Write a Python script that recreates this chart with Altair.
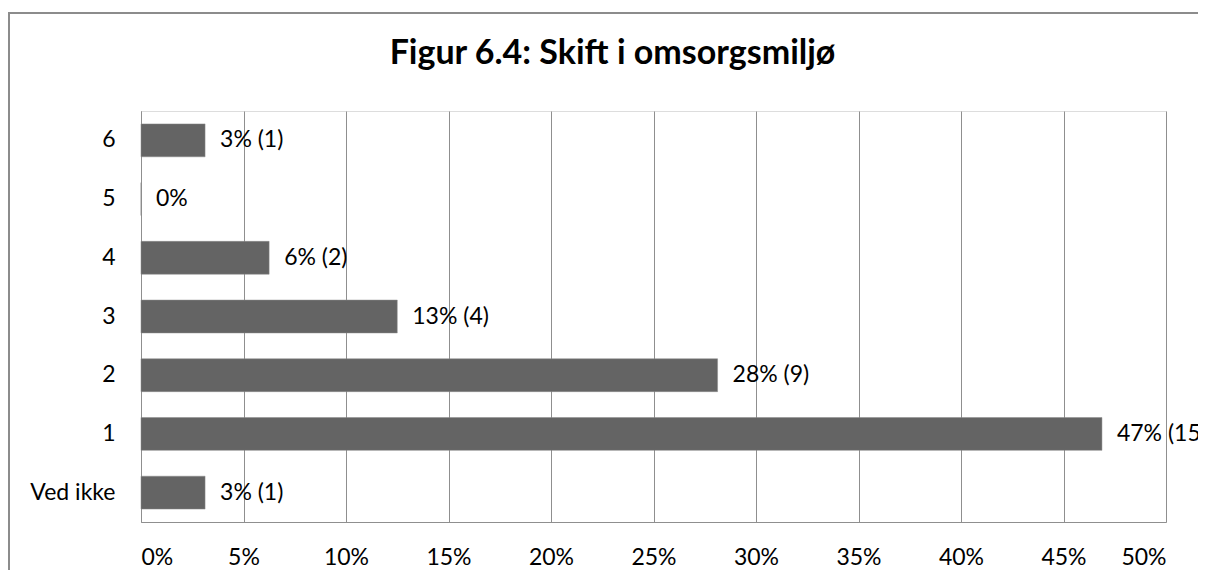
import altair as alt
import pandas as pd

categories = ["6", "5", "4", "3", "2", "1", "Ved ikke"]
shares = [0.03125, 0.0, 0.0625, 0.125, 0.28125, 0.46875, 0.03125]
counts = [1, 0, 2, 4, 9, 15, 1]
labels = ["3% (1)", "0%", "6% (2)", "13% (4)", "28% (9)", "47% (15)", "3% (1)"]
x_ticks = [0, 0.05, 0.10, 0.15, 0.20, 0.25, 0.30, 0.35, 0.40, 0.45, 0.50]
title_text = "Figur 6.4: Skift i omsorgsmiljø"

df = pd.DataFrame({"category": categories, "share": shares, "count": counts, "label": labels})
frame_df = pd.DataFrame({"frame": [1]})

GRID = "#8f8f8f"
FONT = "Lato"
FS = 23

y_enc = alt.Y(
    "category:N",
    sort=categories,
    scale=alt.Scale(paddingInner=0.44, paddingOuter=0.22),
    axis=alt.Axis(title=None, ticks=False, domain=True, domainColor=GRID, domainWidth=1,
                  labelFontSize=FS, labelPadding=26, labelColor="#000000", labelFont=FONT, grid=False),
)
x_enc = alt.X(
    "share:Q",
    scale=alt.Scale(domain=[0, 0.5], nice=False, zero=True),
    axis=alt.Axis(title=None, values=x_ticks, format=".0%", grid=True, gridColor=GRID, gridWidth=1,
                  ticks=False, domain=True, domainColor=GRID, labelFontSize=FS, labelPadding=24,
                  labelColor="#000000", labelFont=FONT),
)

frame = alt.Chart(frame_df).mark_rect(fill="transparent", stroke="#8c8c8c", strokeWidth=2).encode(
    x=alt.value(-132), x2=alt.value(1300), y=alt.value(-98), y2=alt.value(700)
)

bars = alt.Chart(df).mark_bar(color="#646464", stroke="#8a8a8a", strokeWidth=0.5).encode(x=x_enc, y=y_enc)

text = alt.Chart(df).mark_text(align="left", baseline="middle", dx=15, fontSize=FS, font=FONT, color="#000000").encode(
    x=alt.X("share:Q"), y=alt.Y("category:N", sort=categories), text="label:N"
)

chart = (
    alt.layer(frame, bars, text)
    .properties(
        width=1025,
        height=411,
        autosize=alt.AutoSizeParams(type="none"),
        padding={"left": 133, "top": 103, "right": 32, "bottom": 48},
        title=alt.TitleParams(title_text, fontSize=34, font=FONT, fontWeight="bold", color="#000000",
                              anchor="middle", dx=-41, offset=-86, baseline="alphabetic"),
    )
    .configure_view(strokeWidth=0)
    .configure(background="white")
)

chart.save("out.html", embed_options={"renderer": "svg", "actions": False})
